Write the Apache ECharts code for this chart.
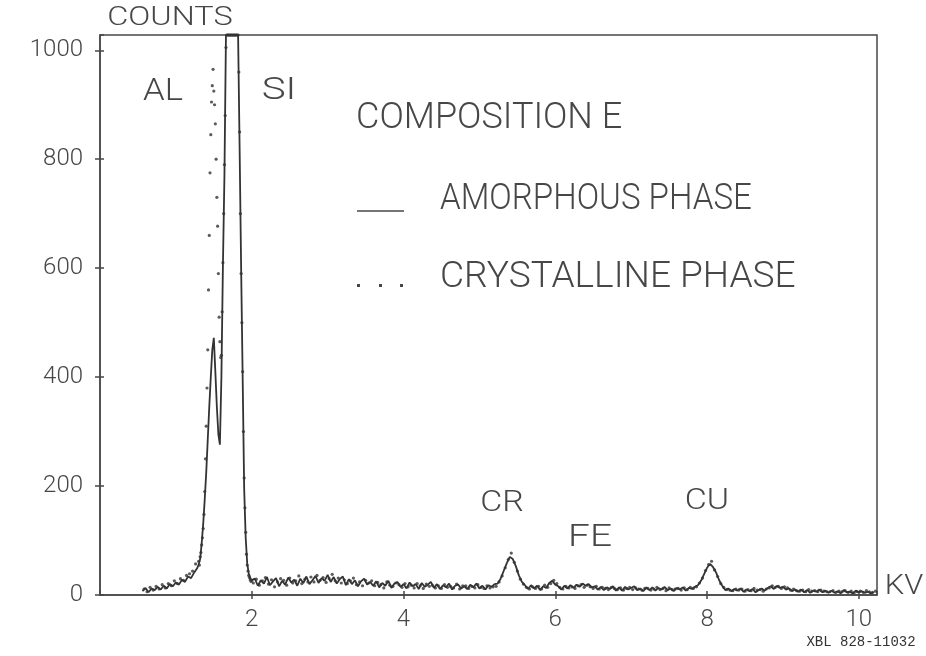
<!DOCTYPE html>
<html>
<head>
<meta charset="utf-8">
<script src="https://cdn.jsdelivr.net/npm/echarts@6/dist/echarts.min.js"></script>
<style>
  html, body { margin: 0; padding: 0; background: #fff; }
  #chart { width: 926px; height: 656px; }
</style>
</head>
<body>
<div id="chart"></div>
<script>
// energy axis ticks (kV) and counts ticks
const kvTicks = [2, 4, 6, 8, 10]
const countTicks = [0, 200, 400, 600, 800, 1000]

// amorphous phase (solid line)
// 0.56 .. 1.28 kV, every 0.04
const amorphousLow = [7, 13, 5, 12, 9, 15, 10, 17, 12, 20, 16, 23, 19, 28, 24, 34, 31, 41, 49]
// 1.30 .. 2.00 kV, every 0.02 (AL + SI peaks, SI runs off the top)
const amorphousPeak = [
  56, 66, 95, 130, 175, 225, 285, 345, 400, 450,
  472, 410, 345, 295, 276, 400, 605, 770, 1028, 1028,
  1028, 1028, 1028, 1028, 1028, 1028, 1028, 820, 600, 400,
  195, 105, 58, 40, 31, 27
]
// 2.04 .. 10.20 kV, every 0.04
const amorphousTail = [
  30, 17, 27, 21, 33, 18, 25, 31, 16, 26,
  19, 32, 23, 28, 17, 30, 22, 34, 20, 27,
  35, 22, 31, 26, 37, 24, 33, 21, 29, 34,
  18, 29, 20, 27, 16, 25, 30, 19, 24, 17,
  25, 14, 22, 17, 26, 13, 21, 24, 15, 20,
  12, 23, 16, 20, 11, 22, 15, 19, 24, 13,
  20, 11, 18, 14, 21, 10, 17, 19, 12, 16,
  11, 19, 14, 21, 12, 17, 10, 18, 15, 20,
  21, 30, 44, 58, 70, 66, 53, 36, 24, 18,
  11, 18, 12, 17, 9, 16, 13, 22, 26, 19,
  16, 10, 17, 12, 18, 13, 19, 15, 21, 17,
  20, 14, 16, 10, 15, 9, 14, 11, 16, 8,
  14, 8, 15, 10, 13, 16, 9, 12, 7, 14,
  9, 14, 8, 13, 10, 15, 9, 12, 7, 13,
  10, 14, 8, 13, 11, 15, 18, 26, 38, 50,
  57, 51, 41, 27, 17, 9, 12, 7, 11, 8,
  12, 6, 10, 7, 11, 5, 9, 12, 8, 13,
  16, 11, 17, 13, 15, 10, 12, 7, 10, 6,
  10, 5, 9, 4, 8, 6, 10, 5, 8, 4,
  8, 4, 7, 3, 9, 5, 6, 3, 8, 5,
  7, 4, 6, 3, 5
]

// crystalline phase (dots)
// 0.58 .. 1.26 kV, every 0.04
const crystallineLow = [11, 6, 14, 9, 16, 11, 19, 13, 21, 17, 26, 21, 30, 27, 36, 39, 44, 57]
// 1.30 .. 2.00 kV, every 0.01
const crystallinePeak = [
  62, 55, 70, 78, 92, 105, 122, 148, 190, 250,
  310, 380, 450, 560, 660, 775, 845, 905, 935, 965,
  925, 900, 865, 800, 730, 677, 590, 510, 465, 436,
  440, 520, 610, 700, 790, 880, 1005, 1028, 1028, 1028,
  1028, 1028, 1028, 1028, 1028, 1028, 1028, 1028, 1028, 1028,
  1028, 1028, 1028, 960, 850, 700, 590, 500, 410, 300,
  215, 160, 115, 75, 55, 44, 36, 32, 28, 25,
  27
]
// 2.02 .. 10.22 kV, every 0.04
const crystallineTail = [
  22, 29, 18, 26, 32, 20, 28, 15, 24, 30,
  27, 18, 31, 22, 26, 35, 21, 29, 24, 33,
  24, 36, 27, 32, 23, 30, 38, 26, 31, 22,
  28, 21, 26, 31, 19, 24, 17, 27, 22, 26,
  17, 23, 19, 13, 24, 18, 16, 22, 19, 14,
  21, 15, 18, 13, 21, 17, 12, 20, 16, 18,
  13, 17, 12, 19, 14, 16, 13, 20, 11, 17,
  17, 12, 16, 13, 19, 14, 12, 17, 13, 15,
  16, 24, 35, 50, 65, 77, 60, 44, 29, 20,
  14, 11, 15, 12, 16, 11, 18, 14, 21, 27,
  21, 14, 11, 16, 13, 15, 12, 17, 19, 14,
  18, 15, 12, 16, 11, 14, 12, 10, 14, 12,
  10, 13, 9, 12, 14, 10, 13, 11, 9, 12,
  12, 9, 11, 14, 10, 12, 8, 13, 10, 11,
  12, 9, 13, 10, 14, 12, 15, 22, 31, 45,
  56, 62, 46, 34, 21, 14, 10, 9, 8, 11,
  9, 11, 7, 10, 8, 12, 9, 10, 7, 11,
  13, 17, 14, 16, 12, 15, 13, 9, 11, 8,
  7, 9, 6, 10, 7, 8, 6, 9, 7, 6,
  6, 8, 5, 7, 6, 8, 5, 7, 4, 6,
  7, 5, 8, 6, 5, 7
]

// channel start (kV), channel width (kV), counts -> [kV, counts]
function channels(start, width, counts) {
  return counts.map((c, i) => [+(start + i * width).toFixed(3), c])
}

const amorphous = [].concat(
  channels(0.56, 0.04, amorphousLow),
  channels(1.30, 0.02, amorphousPeak),
  channels(2.04, 0.04, amorphousTail)
)
const crystalline = [].concat(
  channels(0.58, 0.04, crystallineLow),
  channels(1.30, 0.01, crystallinePeak),
  channels(2.02, 0.04, crystallineTail)
)

const ink = '#474747'
const font = 'Roboto'

const chart = echarts.init(document.getElementById('chart'))

// plotter style label
function txt(text, x, y, size, sx, align) {
  return {
    type: 'text',
    x: x,
    y: y,
    scaleX: sx,
    style: {
      text: text,
      fill: ink,
      fontFamily: font,
      fontWeight: 300,
      fontSize: size,
      align: align || 'center',
      verticalAlign: 'middle',
    },
  }
}

const option = {
  backgroundColor: '#fff',
  animation: false,
  grid: {
    left: 100,
    right: 49,
    top: 35,
    bottom: 61,
    show: true,
    borderColor: ink,
    borderWidth: 1.5,
  },
  xAxis: [
    {
      type: 'value',
      min: 0,
      max: 10.24,
      interval: 2,
      axisLine: { show: true, lineStyle: { color: ink, width: 1.5 } },
      axisTick: { show: true, length: 4, lineStyle: { color: ink, width: 1.5 } },
      axisLabel: {
        showMinLabel: false,
        showMaxLabel: false,
        color: ink,
        fontFamily: font,
        fontWeight: 300,
        fontSize: 24,
        margin: 13,
        formatter: (v) => (kvTicks.includes(v) ? String(v) : ''),
      },
      splitLine: { show: false },
    },
    {
      // inner half of the crossing ticks
      type: 'value',
      position: 'bottom',
      min: 0,
      max: 10.24,
      interval: 2,
      axisLine: { show: false },
      axisTick: { show: true, inside: true, length: 4, lineStyle: { color: ink, width: 1.5 } },
      axisLabel: { show: false },
      splitLine: { show: false },
    },
  ],
  yAxis: [
    {
      type: 'value',
      min: 0,
      max: 1028,
      interval: 200,
      axisLine: { show: true, lineStyle: { color: ink, width: 1.5 } },
      axisTick: { show: true, length: 5, lineStyle: { color: ink, width: 1.5 } },
      axisLabel: {
        showMaxLabel: false,
        color: ink,
        fontFamily: font,
        fontWeight: 300,
        fontSize: 24,
        margin: 17,
        formatter: (v) => (countTicks.includes(v) ? String(v) : ''),
      },
      splitLine: { show: false },
    },
    {
      type: 'value',
      position: 'left',
      min: 0,
      max: 1028,
      interval: 200,
      axisLine: { show: false },
      axisTick: { show: true, inside: true, length: 4, lineStyle: { color: ink, width: 1.5 } },
      axisLabel: { show: false },
      splitLine: { show: false },
    },
  ],
  series: [
    {
      name: 'AMORPHOUS PHASE',
      type: 'line',
      data: amorphous,
      showSymbol: false,
      clip: true,
      lineStyle: { color: '#333', width: 1.8 },
    },
    {
      name: 'CRYSTALLINE PHASE',
      type: 'scatter',
      data: crystalline,
      symbol: 'circle',
      symbolSize: 3.2,
      clip: true,
      itemStyle: { color: '#333' },
    },
  ],
  graphic: [
    txt('COUNTS', 170, 18, 26, 1.25),
    txt('AL', 163, 92, 31, 1.12),
    txt('SI', 279, 91, 31, 1.3),
    txt('COMPOSITION E', 356, 119, 36, 1.0, 'left'),
    txt('AMORPHOUS PHASE', 440, 200, 36, 0.92, 'left'),
    txt('CRYSTALLINE PHASE', 440, 278, 36, 1.03, 'left'),
    txt('CR', 502, 503, 30, 1.13),
    txt('FE', 590, 538, 31, 1.25),
    txt('CU', 707, 501, 30, 1.13),
    txt('KV', 904, 587, 28, 1.1),
    {
      type: 'line',
      shape: { x1: 357, y1: 211, x2: 404, y2: 211 },
      style: { stroke: ink, lineWidth: 1.5 },
    },
    { type: 'rect', shape: { x: 357, y: 284, width: 3, height: 3 }, style: { fill: ink } },
    { type: 'rect', shape: { x: 379, y: 284, width: 3, height: 3 }, style: { fill: ink } },
    { type: 'rect', shape: { x: 400, y: 284, width: 3, height: 3 }, style: { fill: ink } },
    {
      type: 'text',
      x: 861,
      y: 642,
      style: {
        text: 'XBL 828-11032',
        fill: '#333',
        fontFamily: 'Liberation Mono',
        fontSize: 14,
        align: 'center',
        verticalAlign: 'middle',
      },
    },
  ],
}

chart.setOption(option)
</script>
</body>
</html>
